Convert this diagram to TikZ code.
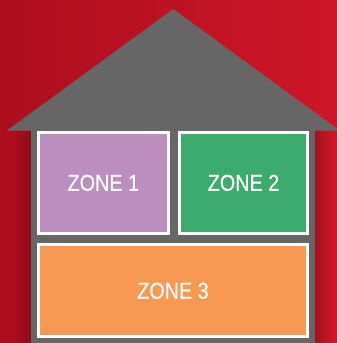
\documentclass[tikz,border=0pt]{standalone}
\usepackage{fontspec}
\setmainfont{Liberation Sans}
\newfontfamily\zonefont[FakeBold=0.6]{Liberation Sans}
\usetikzlibrary{fadings}
\definecolor{bgleft}{RGB}{172,14,30}
\definecolor{bgright}{RGB}{206,22,40}
\definecolor{housegray}{RGB}{102,102,102}
\definecolor{zpurple}{RGB}{188,141,191}
\definecolor{zgreen}{RGB}{61,170,110}
\definecolor{zorange}{RGB}{247,152,83}
\tikzfading[name=fadetoright, left color=transparent!100, right color=transparent!0]
\tikzfading[name=fadetoleft, left color=transparent!0, right color=transparent!100]
\tikzset{
  zone/.style={draw=white, line width=3pt, inner sep=0pt, outer sep=0pt,
    font=\zonefont\fontsize{23}{23}\selectfont, text=white}
}
\begin{document}
\begin{tikzpicture}[x=1pt,y=-1pt]
\useasboundingbox (0,0) rectangle (337,343);
\shade[left color=bgleft, right color=bgright] (0,0) rectangle (337,343);
% shadows beside the body
\fill[black, fill opacity=0.2, path fading=fadetoright] (14,130.7) rectangle (31,343);
\fill[black, fill opacity=0.2, path fading=fadetoleft] (315,130.7) rectangle (332,343);
% roof and body
\fill[housegray] (6.7,130.7) -- (173.3,9) -- (340,130.7) -- cycle;
\fill[housegray] (31,129) rectangle (315,343);
% zones
\node[zone, fill=zpurple, minimum width=130.3pt, minimum height=101.3pt] (z1) at (103.35,182.85) {\scalebox{0.86}[1]{ZONE 1}};
\node[zone, fill=zgreen, minimum width=128pt, minimum height=101.3pt] (z2) at (243.5,182.85) {\scalebox{0.86}[1]{ZONE 2}};
\node[zone, fill=zorange, minimum width=269.6pt, minimum height=92pt] (z3) at (173,290.8) {\scalebox{0.86}[1]{ZONE 3}};
\end{tikzpicture}
\end{document}
